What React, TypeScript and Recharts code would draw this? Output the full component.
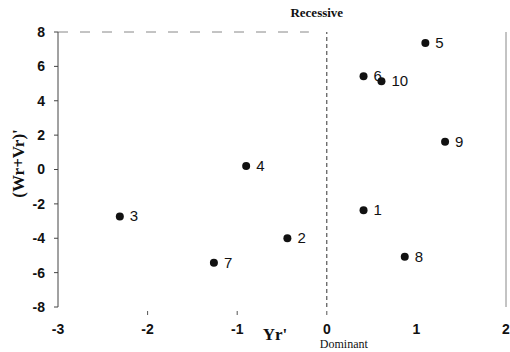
import React from 'react';
import {
  ScatterChart, Scatter, XAxis, YAxis, ReferenceLine, Label,
} from 'recharts';

// parent numbers, Yr' and (Wr+Vr)'
const parents = [1, 2, 3, 4, 5, 6, 7, 8, 9, 10];
const yrValues = [0.41, -0.44, -2.31, -0.9, 1.1, 0.41, -1.26, 0.87, 1.32, 0.61];
const wrVrValues = [-2.37, -4.0, -2.73, 0.2, 7.36, 5.42, -5.42, -5.07, 1.61, 5.13];

const xTicks = [-3, -2, -1, 0, 1, 2];
const yTicks = [-8, -6, -4, -2, 0, 2, 4, 6, 8];

const data = parents.map((p, i) => ({ id: p, x: yrValues[i], y: wrVrValues[i] }));

const NUM_FONT = '"Liberation Sans", Arial, sans-serif';
const SERIF = '"Liberation Serif", "Times New Roman", serif';

function Dot(props: any) {
  const { cx, cy, payload } = props;
  return (
    <g>
      <circle cx={cx} cy={cy} r={4} fill="#111" />
      <text x={cx + 10} y={cy} dy={5} fontSize={15} fontFamily={NUM_FONT} fill="#111">
        {payload.id}
      </text>
    </g>
  );
}

// x ticks: little "T" marks at the foot of the plot, numbers well below
function XTick(props: any) {
  const { x, y, payload } = props;
  return (
    <g>
      {payload.value > -3 && payload.value < 1 && (
        <line x1={x} x2={x} y1={y - 4} y2={y} stroke="#555" strokeWidth={1} />
      )}
      <text x={x} y={y + 19} textAnchor="middle" fontSize={14} fontWeight={700}
        fontFamily={NUM_FONT} fill="#111">
        {payload.value}
      </text>
    </g>
  );
}

export default function App() {
  return (
    <div style={{ position: 'fixed', left: 0, top: 0, background: '#fff' }}>
      <ScatterChart width={510} height={352} margin={{ top: 32, right: 4, bottom: 0, left: 0 }}>
        <XAxis
          type="number" dataKey="x" domain={[-3, 2]} ticks={xTicks}
          axisLine={false} tickLine={false} tick={<XTick />} height={45}
          allowDataOverflow
        >
          <Label value="Yr'" position="insideTop" offset={21} dx={-7}
            style={{ fontFamily: SERIF, fontWeight: 700, fontSize: 17, fill: '#111' }} />
        </XAxis>
        <YAxis
          type="number" dataKey="y" domain={[-8, 8]} ticks={yTicks} width={58}
          axisLine={{ stroke: '#444' }} tickLine={{ stroke: '#444' }} tickSize={4} tickMargin={9}
          tick={{ fontSize: 14, fontWeight: 700, fontFamily: NUM_FONT, fill: '#111' }}
        >
          <Label value="(Wr+Vr)'" angle={-90} position="insideLeft" offset={18} dy={-6}
            style={{ fontFamily: SERIF, fontWeight: 700, fontSize: 17, fill: '#111', textAnchor: 'middle' }} />
        </YAxis>
        <ReferenceLine x={0} stroke="#333" strokeDasharray="4 3" ifOverflow="extendDomain">
          <Label value="Recessive" position="top" offset={15} dx={-10}
            style={{ fontFamily: SERIF, fontWeight: 700, fontSize: 13, fill: '#111' }} />
          <Label value="Dominant" position="bottom" offset={32} dx={17}
            style={{ fontFamily: SERIF, fontSize: 12, fill: '#111' }} />
        </ReferenceLine>
        <ReferenceLine
          segment={[{ x: -3, y: 8 }, { x: -0.2, y: 8 }]}
          stroke="#888" strokeDasharray="10 12"
        />
        <ReferenceLine x={2} stroke="#888" />
        <Scatter data={data} shape={<Dot />} isAnimationActive={false} />
      </ScatterChart>
    </div>
  );
}
